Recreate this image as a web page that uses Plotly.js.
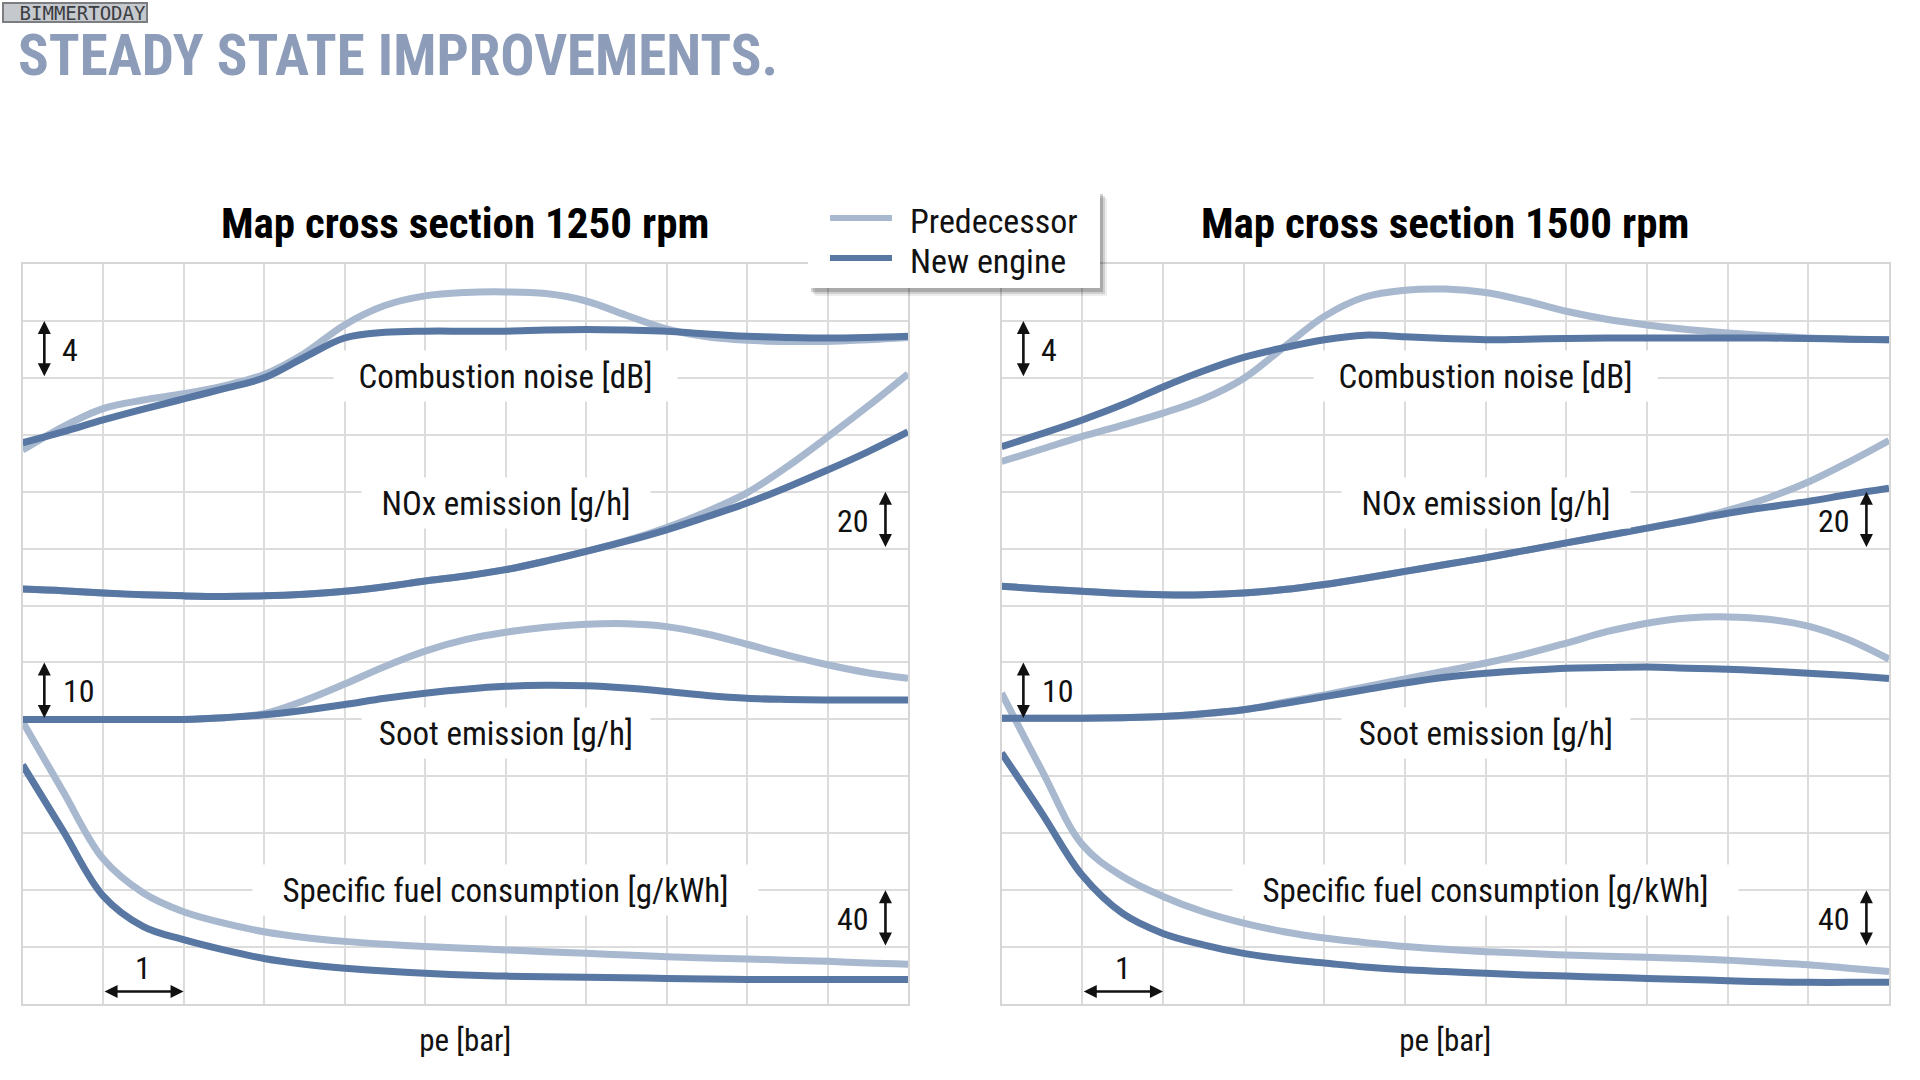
<!DOCTYPE html>
<html><head><meta charset="utf-8">
<script src="https://cdn.plot.ly/plotly-3.0.1.min.js"></script>
<style>html,body{margin:0;padding:0;background:#fff;}#chart{width:1920px;height:1080px;}</style>
</head><body><div id="chart"></div>
<script>
// ---- data (values in grid units) ----
const pe = [0,0.5,1,1.5,2,2.5,3,3.5,4,4.5,5,5.5,6,6.5,7,7.5,8,8.5,9,9.5,10,10.5,11];

const noise1250Pred = [9.73,10.14,10.46,10.61,10.72,10.86,11.06,11.43,11.93,12.27,12.44,12.5,12.51,12.48,12.35,12.1,11.86,11.72,11.66,11.64,11.64,11.67,11.71];
const noise1250New  = [9.86,10.05,10.26,10.45,10.63,10.81,11.0,11.36,11.7,11.8,11.82,11.82,11.82,11.84,11.85,11.84,11.82,11.77,11.73,11.71,11.7,11.71,11.73];
const nox1250Pred   = [7.29,7.26,7.22,7.19,7.17,7.16,7.17,7.2,7.25,7.33,7.43,7.52,7.63,7.78,7.95,8.14,8.37,8.65,8.98,9.44,9.96,10.5,11.07];
const nox1250New    = [7.29,7.26,7.22,7.19,7.17,7.16,7.17,7.2,7.25,7.33,7.43,7.52,7.63,7.78,7.95,8.13,8.33,8.56,8.8,9.08,9.38,9.7,10.05];
const soot1250Pred  = [5.0,5.0,5.0,5.0,5.0,5.03,5.1,5.33,5.62,5.93,6.2,6.4,6.53,6.62,6.67,6.68,6.63,6.5,6.32,6.13,5.96,5.82,5.72];
const soot1250New   = [5.0,5.0,5.0,5.0,5.0,5.03,5.08,5.16,5.26,5.37,5.46,5.53,5.58,5.6,5.59,5.55,5.49,5.42,5.37,5.35,5.34,5.34,5.34];
const sfc1250Pred   = [4.96,3.74,2.55,1.95,1.62,1.42,1.27,1.17,1.1,1.05,1.01,0.98,0.95,0.92,0.89,0.86,0.83,0.81,0.79,0.77,0.75,0.72,0.7];
const sfc1250New    = [4.2,3.05,1.9,1.36,1.13,0.95,0.8,0.7,0.63,0.58,0.54,0.51,0.49,0.48,0.47,0.46,0.45,0.44,0.43,0.43,0.43,0.43,0.43];

const noise1500Pred = [9.53,9.75,9.97,10.17,10.38,10.63,10.99,11.54,12.08,12.42,12.54,12.56,12.5,12.35,12.17,12.03,11.93,11.85,11.79,11.74,11.7,11.68,11.67];
const noise1500New  = [9.79,10.02,10.26,10.53,10.84,11.12,11.36,11.53,11.67,11.75,11.72,11.69,11.67,11.68,11.69,11.7,11.7,11.7,11.7,11.7,11.69,11.68,11.67];
const nox1500Pred   = [7.34,7.29,7.25,7.21,7.19,7.19,7.22,7.28,7.37,7.48,7.6,7.72,7.84,7.97,8.1,8.23,8.36,8.5,8.67,8.89,9.17,9.52,9.9];
const nox1500New    = [7.34,7.29,7.25,7.21,7.19,7.19,7.22,7.28,7.37,7.48,7.6,7.72,7.84,7.97,8.1,8.23,8.36,8.49,8.62,8.73,8.83,8.95,9.06];
const soot1500Pred  = [5.02,5.02,5.02,5.03,5.05,5.1,5.17,5.3,5.43,5.57,5.71,5.85,5.99,6.15,6.34,6.54,6.69,6.78,6.8,6.76,6.64,6.4,6.06];
const soot1500New   = [5.02,5.02,5.02,5.03,5.05,5.1,5.17,5.28,5.4,5.52,5.64,5.74,5.81,5.86,5.9,5.91,5.92,5.9,5.88,5.85,5.81,5.77,5.72];
const sfc1500Pred   = [5.46,4.1,2.8,2.24,1.89,1.62,1.42,1.27,1.16,1.08,1.01,0.96,0.92,0.89,0.86,0.84,0.82,0.8,0.77,0.73,0.69,0.63,0.57];
const sfc1500New    = [4.41,3.35,2.26,1.59,1.24,1.04,0.89,0.79,0.72,0.65,0.6,0.57,0.54,0.51,0.49,0.47,0.45,0.43,0.41,0.39,0.38,0.38,0.38];

const mainTitle = 'STEADY STATE IMPROVEMENTS.';
const panelTitles = ['Map cross section 1250 rpm', 'Map cross section 1500 rpm'];
const metricLabels = ['Combustion noise [dB]', 'NOx emission [g/h]', 'Soot emission [g/h]', 'Specific fuel consumption [g/kWh]'];
const scaleLabels = ['4', '20', '10', '40', '1'];
const seriesNames = ['Predecessor', 'New engine'];
const xTitle = 'pe [bar]';
const watermark = 'BIMMERTODAY';

// ---- styling ----
const FONT = '"Liberation Sans Narrow", "Arial Narrow", "Roboto Condensed", "DejaVu Sans Condensed", "Liberation Sans", sans-serif';
const MONO = '"DejaVu Sans Mono", "Liberation Mono", monospace';
const W = 1920, H = 1080;
const px = v => v / W;
const py = v => 1 - v / H;
const colors = ['#a7b8cf', '#5877a3'];

const panels = [
  {xa: 'x', ya: 'y', title: panelTitles[0], cx: 465,
   series: [[noise1250Pred, noise1250New], [nox1250Pred, nox1250New], [soot1250Pred, soot1250New], [sfc1250Pred, sfc1250New]]},
  {xa: 'x2', ya: 'y2', title: panelTitles[1], cx: 1445,
   series: [[noise1500Pred, noise1500New], [nox1500Pred, nox1500New], [soot1500Pred, soot1500New], [sfc1500Pred, sfc1500New]]}
];

const traces = [];
panels.forEach(p => {
  [0, 1].forEach(k => {
    p.series.forEach(s => {
      traces.push({
        type: 'scatter', mode: 'lines', x: pe, y: s[k], xaxis: p.xa, yaxis: p.ya,
        name: seriesNames[k], legendgroup: seriesNames[k], showlegend: false, hoverinfo: 'skip',
        line: {color: colors[k], width: 7, shape: 'spline', smoothing: 1}
      });
    });
  });
});

const labelPos = [ {y: 11.03, w: 335}, {y: 8.81, w: 280}, {y: 4.76, w: 280}, {y: 2.01, w: 497} ];
const arrowDefs = [
  {x: 0.27, y: 12, ax: 0.27, ay: 11, lx: 0.59, ly: 11.49},
  {x: 10.72, y: 9, ax: 10.72, ay: 8, lx: 10.32, ly: 8.49},
  {x: 0.27, y: 6, ax: 0.27, ay: 5, lx: 0.70, ly: 5.49},
  {x: 10.72, y: 2, ax: 10.72, ay: 1, lx: 10.32, ly: 1.5},
  {x: 2, y: 0.22, ax: 1, ay: 0.22, lx: 1.5, ly: 0.64}
];

const annotations = [];
annotations.push({xref: 'paper', yref: 'paper', x: px(2), y: py(2), xanchor: 'left', yanchor: 'top',
  text: watermark, showarrow: false, bgcolor: '#c5c8cd', bordercolor: '#7b7d81', borderwidth: 2, borderpad: 0,
  width: 142, height: 17, align: 'right',
  font: {family: MONO, size: 19, color: '#3a3d42'}});

panels.forEach(p => {
  annotations.push({xref: 'paper', yref: 'paper', x: px(p.cx), y: py(223), xanchor: 'center', yanchor: 'middle',
    text: p.title, showarrow: false, font: {family: FONT, size: 43, color: '#000', weight: 700}});
  metricLabels.forEach((t, i) => {
    annotations.push({xref: p.xa, yref: p.ya, x: 6, y: labelPos[i].y, xanchor: 'center', yanchor: 'middle',
      text: t, showarrow: false, bgcolor: '#ffffff', borderpad: 4, width: labelPos[i].w, height: 42,
      font: {family: FONT, size: 33, color: '#111'}});
  });
  arrowDefs.forEach((a, i) => {
    annotations.push({xref: p.xa, yref: p.ya, axref: p.xa, ayref: p.ya, x: a.x, y: a.y, ax: a.ax, ay: a.ay,
      text: '', showarrow: true, arrowside: 'end+start', arrowhead: 2, startarrowhead: 2,
      arrowsize: 1, startarrowsize: 1, arrowwidth: 2.6, arrowcolor: '#111', standoff: 0, startstandoff: 0});
    annotations.push({xref: p.xa, yref: p.ya, x: a.lx, y: a.ly, xanchor: 'center', yanchor: 'middle',
      text: scaleLabels[i], showarrow: false, font: {family: FONT, size: 32, color: '#111'}});
  });
});

// custom legend (box with soft shadow)
const L = {x0: 808, x1: 1100, y0: 190, y1: 288};
const shapes = [];
[[7, 8, 'rgba(0,0,0,0.07)'], [5, 6, 'rgba(0,0,0,0.12)'], [3, 4, 'rgba(0,0,0,0.18)']].forEach(s => {
  shapes.push({type: 'rect', xref: 'paper', yref: 'paper', layer: 'above', line: {width: 0}, fillcolor: s[2],
    x0: px(L.x0 + s[0]), x1: px(L.x1 + s[0]), y0: py(L.y0 + s[1]), y1: py(L.y1 + s[1])});
});
shapes.push({type: 'rect', xref: 'paper', yref: 'paper', layer: 'above', line: {width: 0}, fillcolor: '#ffffff',
  x0: px(L.x0), x1: px(L.x1), y0: py(L.y0), y1: py(L.y1)});
[[218, 221], [258, 261]].forEach((yy, k) => {
  shapes.push({type: 'line', xref: 'paper', yref: 'paper', layer: 'above', x0: px(830), x1: px(892), y0: py(yy[0]), y1: py(yy[0]),
    line: {color: colors[k], width: 6}});
  annotations.push({xref: 'paper', yref: 'paper', x: px(908), y: py(yy[1]), xanchor: 'left', yanchor: 'middle',
    text: seriesNames[k], showarrow: false, font: {family: FONT, size: 34, color: '#111'}});
});

const axBase = {range: [0, 11], dtick: 1, tick0: 0, showgrid: true, gridcolor: '#dcdcdc', gridwidth: 2,
  showline: true, mirror: true, linecolor: '#d6d6d6', linewidth: 2, zeroline: false, showticklabels: false,
  ticks: '', fixedrange: true};
const ayBase = Object.assign({}, axBase, {range: [0, 13]});
const xt = {text: xTitle, font: {family: FONT, size: 31, color: '#111'}, standoff: 24};

const layout = {
  width: W, height: H, autosize: false, margin: {l: 0, r: 0, t: 0, b: 0},
  paper_bgcolor: '#ffffff', plot_bgcolor: '#ffffff', showlegend: false,
  title: {text: mainTitle, xref: 'container', yref: 'container', x: px(18), xanchor: 'left', y: py(55.5), yanchor: 'middle',
    font: {family: FONT, size: 57, color: '#8d9db9', weight: 700}},
  xaxis: Object.assign({}, axBase, {domain: [px(22.6), px(908)], anchor: 'y', title: xt}),
  yaxis: Object.assign({}, ayBase, {domain: [1 - 1004 / H, 1 - 264 / H], anchor: 'x'}),
  xaxis2: Object.assign({}, axBase, {domain: [px(1001.6), px(1889)], anchor: 'y2', title: xt}),
  yaxis2: Object.assign({}, ayBase, {domain: [1 - 1004 / H, 1 - 264 / H], anchor: 'x2'}),
  annotations: annotations,
  shapes: shapes
};

Plotly.newPlot('chart', traces, layout, {displayModeBar: false, staticPlot: true});
</script></body></html>
